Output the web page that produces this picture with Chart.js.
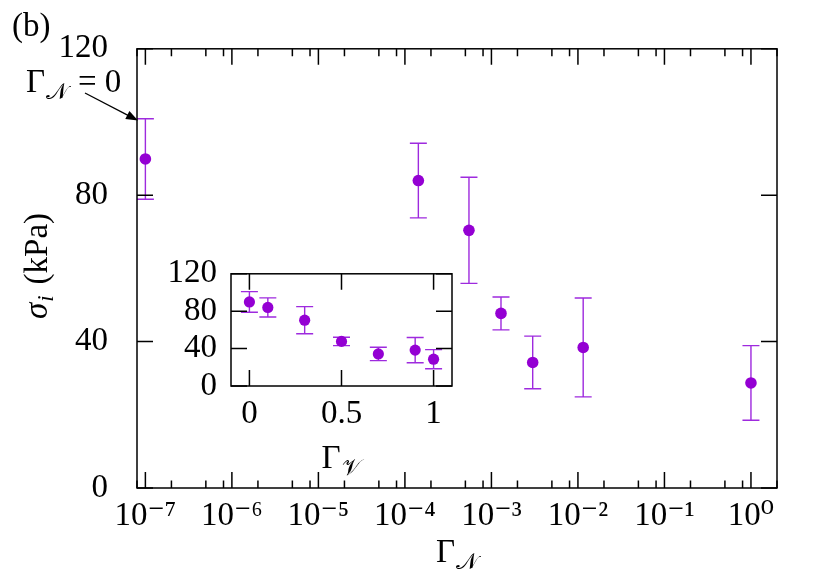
<!DOCTYPE html>
<html><head><meta charset="utf-8">
<script src="https://cdn.jsdelivr.net/npm/chart.js@4.4.0/dist/chart.umd.min.js"></script>
<style>
html,body{margin:0;padding:0;background:#fff;}
#wrap{position:relative;width:829px;height:585px;overflow:hidden;}
#main{position:absolute;left:0;top:0;}
#inset{position:absolute;left:150px;top:240px;}
</style></head><body>
<div id="wrap"><canvas id="main" width="829" height="585"></canvas><canvas id="inset" width="320" height="240"></canvas></div>
<script>
// ---- data ----
const gammaN = [1e-7, 1.43e-4, 5.5e-4, 1.29e-3, 3.0e-3, 1.15e-2, 1.0];   // Γ_N = 0 plotted at 1e-7
const gammaV = [0, 0.1, 0.3, 0.5, 0.7, 0.9, 1.0];
const sigma = [89.9, 84.0, 70.4, 47.7, 34.3, 38.4, 28.7];
const sigmaErr = [11.0, 10.2, 14.5, 4.5, 7.2, 13.5, 10.2];
const xMajorTicks = [1e-7, 1e-6, 1e-5, 1e-4, 1e-3, 1e-2, 1e-1, 1];
const xTickLabels = ['10\u207B\u2077', '10\u207B\u2076', '10\u207B\u2075', '10\u207B\u2074', '10\u207B\u00B3', '10\u207B\u00B2', '10\u207B\u00B9', '10\u2070'];
const yTicks = [0, 40, 80, 120];
const insetXTicks = [0, 0.5, 1];
const insetXLabels = ['0', '0.5', '1'];
const insetYTicks = [0, 40, 80, 120];
const minorMult = [2, 5, 8];
const xMinorTicks = [];
[-8, -7, -6, -5, -4, -3, -2, -1, 0].forEach(e => minorMult.forEach(m => xMinorTicks.push(m * Math.pow(10, e))));

const F = '"Liberation Serif","DejaVu Serif",serif';
const FS = 33;
const PURPLE = '#9400d3';
const BAR = '#9e2ade';

function drawParts(ctx, parts, x, y, align) {
  let w = 0;
  parts.forEach(p => { ctx.font = p.f; p.w = ctx.measureText(p.t).width; w += (p.gap || 0) + p.w; });
  let cx = align === 'center' ? x - w / 2 : x;
  ctx.textBaseline = 'alphabetic'; ctx.textAlign = 'left'; ctx.fillStyle = '#000';
  parts.forEach(p => { cx += (p.gap || 0); ctx.font = p.f; ctx.fillText(p.t, cx, y + (p.dy || 0)); cx += p.w; });
}

function errorBars(xs) {
  return {
    id: 'errbars',
    beforeDatasetsDraw(chart) {
      const { ctx, scales: { x, y } } = chart;
      ctx.save(); ctx.strokeStyle = BAR; ctx.lineWidth = 1.4;
      for (let i = 0; i < sigma.length; i++) {
        const px = x.getPixelForValue(xs[i]);
        const t = y.getPixelForValue(sigma[i] + sigmaErr[i]);
        const b = y.getPixelForValue(sigma[i] - sigmaErr[i]);
        ctx.beginPath();
        ctx.moveTo(px, t); ctx.lineTo(px, b);
        ctx.moveTo(px - 8.5, t); ctx.lineTo(px + 8.5, t);
        ctx.moveTo(px - 8.5, b); ctx.lineTo(px + 8.5, b);
        ctx.stroke();
      }
      ctx.restore();
    }
  };
}

function frame(xMaj, xMin, yMaj, majLen, minLen) {
  return {
    id: 'frame',
    afterDraw(chart) {
      const { ctx, chartArea: a, scales: { x, y } } = chart;
      ctx.save(); ctx.strokeStyle = '#000'; ctx.lineWidth = 1.5;
      ctx.beginPath();
      const inX = v => v >= x.min * 0.999 && v <= x.max * 1.001;
      xMaj.forEach(v => { if (!inX(v)) return; const p = x.getPixelForValue(v);
        ctx.moveTo(p, a.bottom); ctx.lineTo(p, a.bottom - majLen); ctx.moveTo(p, a.top); ctx.lineTo(p, a.top + majLen); });
      xMin.forEach(v => { if (!inX(v)) return; const p = x.getPixelForValue(v);
        ctx.moveTo(p, a.bottom); ctx.lineTo(p, a.bottom - minLen); ctx.moveTo(p, a.top); ctx.lineTo(p, a.top + minLen); });
      yMaj.forEach(v => { const p = y.getPixelForValue(v);
        ctx.moveTo(a.left, p); ctx.lineTo(a.left + majLen, p); ctx.moveTo(a.right, p); ctx.lineTo(a.right - majLen, p); });
      ctx.stroke();
      ctx.strokeRect(a.left, a.top, a.right - a.left, a.bottom - a.top);
      ctx.restore();
    }
  };
}

const mainDecor = {
  id: 'mainDecor',
  afterDraw(chart) {
    const ctx = chart.ctx;
    ctx.save();
    // panel label
    drawParts(ctx, [{ t: '(b)', f: `33px ${F}` }], 12, 36, 'left');
    // annotation
    drawParts(ctx, [
      { t: '\u0393', f: `${FS}px ${F}` },
      { t: '\u{1D4A9}', f: `23px ${F}`, dy: 7, gap: 1 },
      { t: '=', f: `${FS}px ${F}`, gap: 10 },
      { t: '0', f: `${FS}px ${F}`, gap: 8 }
    ], 26, 92, 'left');
    // arrow
    const x0 = 85, y0 = 93, x1 = 138, y1 = 120.5;
    const ang = Math.atan2(y1 - y0, x1 - x0);
    ctx.strokeStyle = '#000'; ctx.fillStyle = '#000'; ctx.lineWidth = 1.3;
    ctx.beginPath(); ctx.moveTo(x0, y0); ctx.lineTo(x1 - 8 * Math.cos(ang), y1 - 8 * Math.sin(ang)); ctx.stroke();
    ctx.beginPath();
    ctx.moveTo(x1, y1);
    ctx.lineTo(x1 - 12 * Math.cos(ang) + 4.5 * Math.sin(ang), y1 - 12 * Math.sin(ang) - 4.5 * Math.cos(ang));
    ctx.lineTo(x1 - 12 * Math.cos(ang) - 4.5 * Math.sin(ang), y1 - 12 * Math.sin(ang) + 4.5 * Math.cos(ang));
    ctx.closePath(); ctx.fill();
    // x title
    drawParts(ctx, [
      { t: '\u0393', f: `${FS}px ${F}` },
      { t: '\u{1D4A9}', f: `23px ${F}`, dy: 7, gap: 1 }
    ], 457, 562, 'center');
    // y title
    ctx.translate(47, 266); ctx.rotate(-Math.PI / 2);
    drawParts(ctx, [
      { t: '\u03C3', f: `italic ${FS}px ${F}` },
      { t: 'i', f: `italic 23px ${F}`, dy: 6, gap: 1 },
      { t: '(kPa)', f: `${FS}px ${F}`, gap: 11 }
    ], 0, 0, 'center');
    ctx.restore();
  }
};

const insetDecor = {
  id: 'insetDecor',
  afterDraw(chart) {
    const ctx = chart.ctx;
    ctx.save();
    drawParts(ctx, [
      { t: '\u0393', f: `${FS}px ${F}` },
      { t: '\u{1D4B1}', f: `23px ${F}`, dy: 7, gap: 1 }
    ], 191, 228, 'center');
    ctx.restore();
  }
};

const tickFont = { family: F, size: FS };

new Chart(document.getElementById('main'), {
  type: 'scatter',
  data: { datasets: [{ data: gammaN.map((v, i) => ({ x: v, y: sigma[i] })), backgroundColor: PURPLE, borderWidth: 0, pointRadius: 5.8, pointHoverRadius: 5.8 }] },
  options: {
    responsive: false, animation: false, events: [],
    layout: { padding: { left: 0, top: 44, right: 52, bottom: 0 } },
    plugins: { legend: { display: false }, tooltip: { enabled: false } },
    scales: {
      x: {
        type: 'logarithmic', min: 8e-8, max: 2,
        grid: { display: false, drawTicks: false }, border: { display: false },
        afterBuildTicks: s => { s.ticks = xMajorTicks.map(v => ({ value: v })); },
        afterFit: s => { s.height = 97; },
        ticks: { font: tickFont, color: '#000', padding: 9, autoSkip: false, maxRotation: 0, minRotation: 0,
          callback: (v, i) => xTickLabels[i] }
      },
      y: {
        min: 0, max: 120,
        grid: { display: false, drawTicks: false }, border: { display: false },
        afterBuildTicks: s => { s.ticks = yTicks.map(v => ({ value: v })); },
        afterFit: s => { s.width = 137; },
        ticks: { font: tickFont, color: '#000', padding: 29, autoSkip: false }
      }
    }
  },
  plugins: [errorBars(gammaN), frame(xMajorTicks, xMinorTicks, yTicks, 16, 7.5), mainDecor]
});

new Chart(document.getElementById('inset'), {
  type: 'scatter',
  data: { datasets: [{ data: gammaV.map((v, i) => ({ x: v, y: sigma[i] })), backgroundColor: PURPLE, borderWidth: 0, pointRadius: 5.6, pointHoverRadius: 5.6 }] },
  options: {
    responsive: false, animation: false, events: [],
    layout: { padding: { left: 0, top: 15, right: 18, bottom: 0 } },
    plugins: { legend: { display: false }, tooltip: { enabled: false } },
    scales: {
      x: {
        type: 'linear', min: -0.1, max: 1.1,
        grid: { display: false, drawTicks: false }, border: { display: false },
        afterBuildTicks: s => { s.ticks = insetXTicks.map(v => ({ value: v })); },
        afterFit: s => { s.height = 94; },
        ticks: { font: tickFont, color: '#000', padding: 9, autoSkip: false, maxRotation: 0, minRotation: 0,
          callback: (v, i) => insetXLabels[i] }
      },
      y: {
        min: 0, max: 120,
        grid: { display: false, drawTicks: false }, border: { display: false },
        afterBuildTicks: s => { s.ticks = insetYTicks.map(v => ({ value: v })); },
        afterFit: s => { s.width = 81; },
        ticks: { font: tickFont, color: '#000', padding: 14, autoSkip: false }
      }
    }
  },
  plugins: [errorBars(gammaV), frame(insetXTicks, [], insetYTicks, 16, 8), insetDecor]
});
</script>
</body></html>
